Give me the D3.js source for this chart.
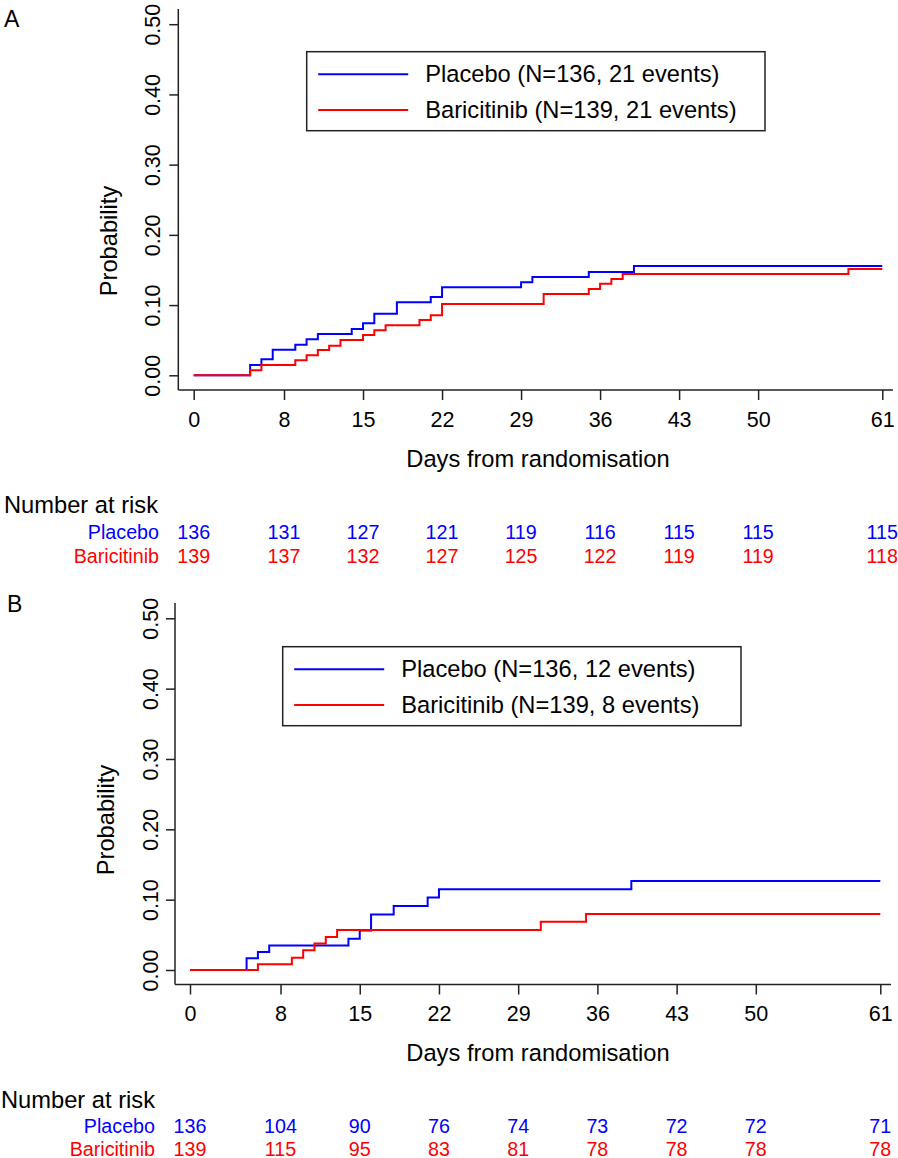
<!DOCTYPE html>
<html>
<head>
<meta charset="utf-8">
<script src="https://cdn.jsdelivr.net/npm/d3@7"></script>
<style>
  html, body { margin: 0; padding: 0; background: #fff; }
  svg { display: block; }
  text { font-family: "Liberation Sans", Arial, sans-serif; }
</style>
</head>
<body>
<svg id="chart" width="898" height="1158"></svg>
<script>
// ---------------- DATA ----------------
const dayTicks = [0, 8, 15, 22, 29, 36, 43, 50, 61];
const probTicks = [0, 0.1, 0.2, 0.3, 0.4, 0.5];
const seriesNames = ["Placebo", "Baricitinib"];

// Panel A: cumulative probability step functions
const aPlaceboDays  = [0, 5, 6, 7, 9, 10, 11, 14, 15, 16, 18, 21, 22, 29, 30, 35, 39, 61];
const aPlaceboProb  = [0, 0.0147, 0.0228, 0.0365, 0.0436, 0.0513, 0.0588, 0.066, 0.074, 0.0878, 0.104, 0.1115, 0.1253, 0.1325, 0.14, 0.147, 0.1557, 0.1557];
const aBaricDays    = [0, 5, 6, 9, 10, 11, 12, 13, 15, 16, 17, 20, 21, 22, 31, 35, 36, 37, 38, 58, 61];
const aBaricProb    = [0, 0.0071, 0.0147, 0.0213, 0.0285, 0.036, 0.0422, 0.0503, 0.0574, 0.064, 0.0712, 0.0788, 0.0855, 0.1016, 0.1158, 0.123, 0.1305, 0.137, 0.1443, 0.1514, 0.1514];
const aRiskPlacebo  = [136, 131, 127, 121, 119, 116, 115, 115, 115];
const aRiskBaric    = [139, 137, 132, 127, 125, 122, 119, 119, 118];
const aLegend       = ["Placebo (N=136, 21 events)", "Baricitinib (N=139, 21 events)"];

// Panel B
const bPlaceboDays  = [0, 5, 6, 7, 14, 15, 16, 18, 21, 22, 39, 61];
const bPlaceboProb  = [0, 0.0166, 0.0256, 0.035, 0.0446, 0.056, 0.079, 0.091, 0.103, 0.1148, 0.1266, 0.1266];
const bBaricDays    = [0, 6, 9, 10, 11, 12, 13, 31, 35, 61];
const bBaricProb    = [0, 0.0081, 0.0175, 0.028, 0.0375, 0.047, 0.057, 0.0687, 0.0797, 0.0797];
const bRiskPlacebo  = [136, 104, 90, 76, 74, 73, 72, 72, 71];
const bRiskBaric    = [139, 115, 95, 83, 81, 78, 78, 78, 78];
const bLegend       = ["Placebo (N=136, 12 events)", "Baricitinib (N=139, 8 events)"];

// ---------------- DRAWING ----------------
const colors = ["#0000FF", "#FF0000"];
const svg = d3.select("#chart");

function drawPanel(p) {
  const g = svg.append("g");
  const x = d3.scaleLinear().domain([0, 61]).range([p.x0, p.x61]);
  const y = d3.scaleLinear().domain([0, 0.5]).range([p.y0, p.y50]);

  // panel letter
  g.append("text").attr("x", p.letterX).attr("y", p.letterY)
    .attr("font-size", 23).attr("fill", "#000").text(p.letter);

  // axes lines
  g.append("line").attr("x1", p.axX).attr("x2", p.axX).attr("y1", p.axTop).attr("y2", p.axY)
    .attr("stroke", "#222").attr("stroke-width", 1.5);
  g.append("line").attr("x1", p.axX).attr("x2", x(61.95)).attr("y1", p.axY).attr("y2", p.axY)
    .attr("stroke", "#222").attr("stroke-width", 1.5);

  // y axis ticks
  const yAx = g.append("g").attr("transform", `translate(${p.axX},0)`)
    .call(d3.axisLeft(y).tickValues(probTicks).tickSize(9).tickSizeOuter(0).tickFormat(d3.format(".2f")));
  yAx.select(".domain").remove();
  yAx.selectAll(".tick line").attr("stroke", "#222").attr("stroke-width", 1.5);
  yAx.selectAll(".tick text")
    .attr("x", null).attr("dy", null).attr("text-anchor", "middle")
    .attr("transform", `translate(${-p.yLabOff},0) rotate(-90)`)
    .attr("font-size", 21.5).attr("font-family", "Liberation Sans, Arial, sans-serif").attr("fill", "#000");

  // x axis ticks
  const xAx = g.append("g").attr("transform", `translate(0,${p.axY})`)
    .call(d3.axisBottom(x).tickValues(dayTicks).tickSize(10).tickSizeOuter(0));
  xAx.select(".domain").remove();
  xAx.selectAll(".tick line").attr("stroke", "#222").attr("stroke-width", 1.5);
  xAx.selectAll(".tick text")
    .attr("y", 36.7).attr("dy", null)
    .attr("font-size", 21.5).attr("font-family", "Liberation Sans, Arial, sans-serif").attr("fill", "#000");

  // axis titles
  g.append("text").attr("x", 538).attr("y", p.axY + 76.7).attr("text-anchor", "middle")
    .attr("font-size", 23.7).attr("fill", "#000").text("Days from randomisation");
  g.append("text").attr("transform", `translate(${p.probX},${p.probY}) rotate(-90)`)
    .attr("text-anchor", "middle").attr("font-size", 23.7).attr("fill", "#000").text("Probability");

  // curves
  const line = d3.line().x(d => x(d[0])).y(d => y(d[1])).curve(d3.curveStepAfter);
  p.series.forEach((s, i) => {
    const pts = s.days.map((d, k) => [d, s.prob[k]]);
    g.append("path").datum(pts).attr("d", line)
      .attr("fill", "none").attr("stroke", colors[i]).attr("stroke-width", 2);
  });

  // legend
  const L = p.legend;
  g.append("rect").attr("x", L.x).attr("y", L.y).attr("width", L.w).attr("height", L.h)
    .attr("fill", "#fff").attr("stroke", "#222").attr("stroke-width", 1.5);
  p.legendText.forEach((t, i) => {
    const ly = L.y + 22.6 + i * 35.7;
    g.append("line").attr("x1", L.x + 11.5).attr("x2", L.x + 101.5).attr("y1", ly).attr("y2", ly)
      .attr("stroke", colors[i]).attr("stroke-width", 2);
    g.append("text").attr("x", L.x + 118.5).attr("y", ly + 7.8)
      .attr("font-size", 23.7).attr("fill", "#000").text(t);
  });

  // number at risk
  g.append("text").attr("x", p.riskHeadX).attr("y", p.riskHeadY)
    .attr("font-size", 23.7).attr("fill", "#000").text("Number at risk");
  p.risk.forEach((vals, i) => {
    const ry = p.riskRowY[i];
    g.append("text").attr("x", p.riskLabX).attr("y", ry).attr("text-anchor", "end")
      .attr("font-size", 19.7).attr("fill", colors[i]).text(seriesNames[i]);
    g.selectAll(null).data(vals).enter().append("text")
      .attr("x", (d, k) => x(dayTicks[k])).attr("y", ry).attr("text-anchor", "middle")
      .attr("font-size", 19.7).attr("fill", colors[i]).text(d => d);
  });
}

drawPanel({
  letter: "A", letterX: 4, letterY: 27,
  x0: 193.7, x61: 882.3, y0: 375.3, y50: 24.2,
  axX: 178.3, axY: 390, axTop: 9, yLabOff: 18.3,
  probX: 117, probY: 241,
  series: [{ days: aPlaceboDays, prob: aPlaceboProb }, { days: aBaricDays, prob: aBaricProb }],
  legend: { x: 306.7, y: 51.7, w: 458.3, h: 79 },
  legendText: aLegend,
  riskHeadX: 4, riskHeadY: 513, riskLabX: 159, riskRowY: [539, 563],
  risk: [aRiskPlacebo, aRiskBaric]
});

drawPanel({
  letter: "B", letterX: 7, letterY: 612,
  x0: 190, x61: 880.3, y0: 970, y50: 618.3,
  axX: 175, axY: 984.5, axTop: 603, yLabOff: 17.5,
  probX: 114, probY: 820,
  series: [{ days: bPlaceboDays, prob: bPlaceboProb }, { days: bBaricDays, prob: bBaricProb }],
  legend: { x: 282.7, y: 646.7, w: 458.3, h: 79 },
  legendText: bLegend,
  riskHeadX: 1, riskHeadY: 1108, riskLabX: 155, riskRowY: [1133, 1155.5],
  risk: [bRiskPlacebo, bRiskBaric]
});
</script>
</body>
</html>
